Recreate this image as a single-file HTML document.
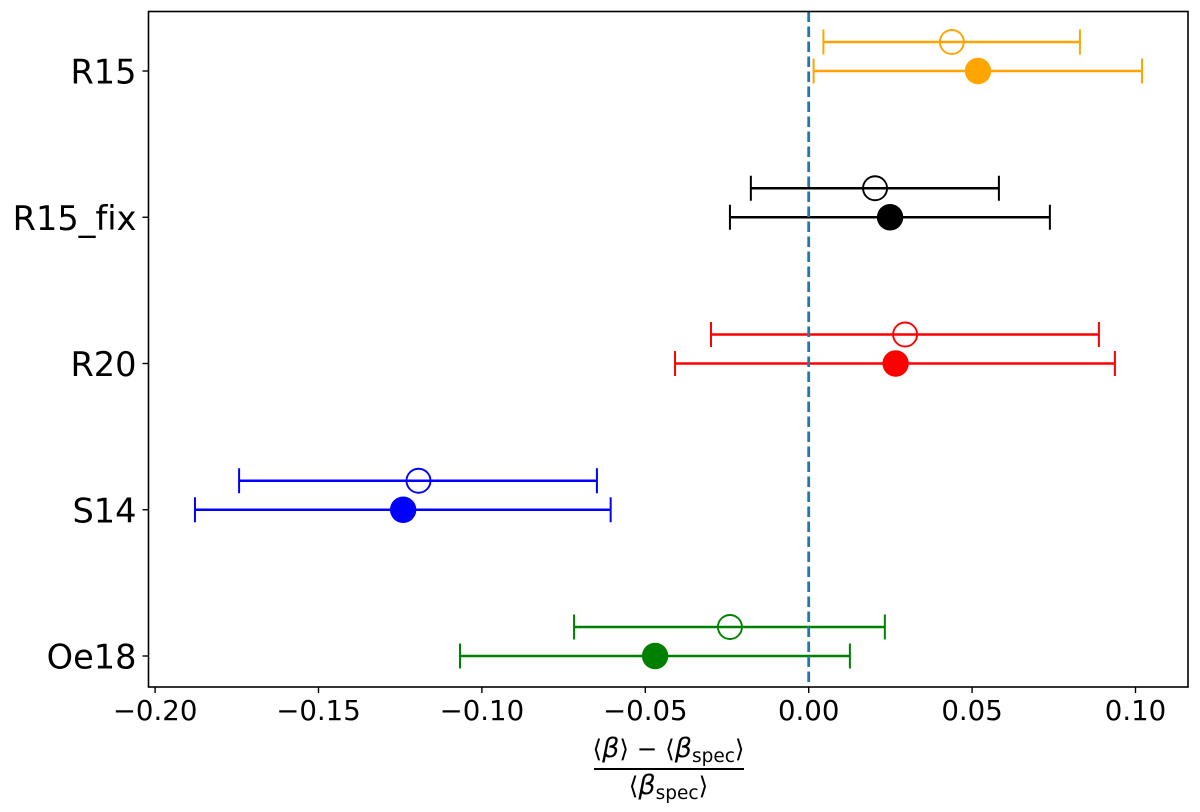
<!DOCTYPE html>
<html>
<head>
<meta charset="utf-8">
<style>
html,body{margin:0;padding:0;background:#fff;}
svg{display:block;filter:blur(0.3px);}
text{font-family:"DejaVu Sans","Liberation Sans",sans-serif;fill:#000;font-variant-ligatures:none;}
</style>
</head>
<body>
<svg id="chart" xmlns="http://www.w3.org/2000/svg" width="1200" height="812" viewBox="0 0 1200 812">
<rect x="0" y="0" width="1200" height="812" fill="#fff"/>
<g id="marks"></g>
<g id="axes"></g>
<g>
<text x="668.5" y="757" text-anchor="middle" font-size="24.6"><tspan>⟨</tspan><tspan font-style="italic" font-size="27">β</tspan><tspan>⟩ − ⟨</tspan><tspan font-style="italic" font-size="27">β</tspan><tspan font-size="18.5" dy="5">spec</tspan><tspan dy="-5">⟩</tspan></text>
<rect x="594" y="768" width="150" height="2" fill="#000"/>
<text x="668.5" y="794" text-anchor="middle" font-size="24.6"><tspan>⟨</tspan><tspan font-style="italic" font-size="27">β</tspan><tspan font-size="18.5" dy="5">spec</tspan><tspan dy="-5">⟩</tspan></text>
</g>
</svg>
<script>
var categories = ['Oe18', 'S14', 'R20', 'R15_fix', 'R15'];
var colors = ['green', 'blue', 'red', 'black', 'orange'];
var filledValues = [-0.0470, -0.1241, 0.0266, 0.0249, 0.0518];
var filledLow = [-0.1067, -0.1878, -0.0409, -0.0241, 0.0015];
var filledHigh = [0.0126, -0.0606, 0.0937, 0.0738, 0.1020];
var openValues = [-0.0241, -0.1194, 0.0295, 0.0203, 0.0438];
var openLow = [-0.0718, -0.1743, -0.0299, -0.0177, 0.0045];
var openHigh = [0.0233, -0.0648, 0.0888, 0.0582, 0.0830];
var xTicks = [-0.20, -0.15, -0.10, -0.05, 0.00, 0.05, 0.10];
var referenceValue = 0;

var NS = 'http://www.w3.org/2000/svg';
var plot = {left: 148.5, right: 1188, top: 11.5, bottom: 687};
function xScale(v) { return 808.7 + v * 3268; }
function yScale(i) { return 656 - i * 146.25; }
function make(parent, tag, attrs) {
  var el = document.createElementNS(NS, tag);
  for (var k in attrs) { el.setAttribute(k, attrs[k]); }
  parent.appendChild(el);
  return el;
}
var marks = document.getElementById('marks');
var axes = document.getElementById('axes');

function drawSeries(i, value, low, high, y, filled) {
  var g = make(marks, 'g', {});
  
  
  var x0 = xScale(low), x1 = xScale(high), c = colors[i];
  make(g, 'line', {x1: x0, x2: x1, y1: y, y2: y, stroke: c, 'stroke-width': 2.4});
  make(g, 'line', {x1: x0, x2: x0, y1: y - 12.5, y2: y + 12.5, stroke: c, 'stroke-width': 2});
  make(g, 'line', {x1: x1, x2: x1, y1: y - 12.5, y2: y + 12.5, stroke: c, 'stroke-width': 2});
  if (filled) {
    make(g, 'circle', {cx: xScale(value), cy: y, r: 13.2, fill: c});
  } else {
    make(g, 'circle', {cx: xScale(value), cy: y, r: 12, fill: 'none', stroke: c, 'stroke-width': 1.9});
  }
}
categories.forEach(function (name, i) {
  drawSeries(i, openValues[i], openLow[i], openHigh[i], yScale(i) - 29, false);
  drawSeries(i, filledValues[i], filledLow[i], filledHigh[i], yScale(i), true);
});

var refLine = make(marks, 'line', {x1: xScale(referenceValue), x2: xScale(referenceValue), y1: plot.top, y2: plot.bottom, stroke: '#1f77b4', 'stroke-width': 2.8, 'stroke-dasharray': '10.5 4.5'});



var frame = make(axes, 'rect', {x: plot.left, y: plot.top, width: plot.right - plot.left, height: plot.bottom - plot.top, fill: 'none', stroke: '#000', 'stroke-width': 1.6});



xTicks.forEach(function (t) {
  var x = xScale(t);
  var g = make(axes, 'g', {});
  
  
  make(g, 'line', {x1: x, x2: x, y1: plot.bottom, y2: plot.bottom + 6, stroke: '#000', 'stroke-width': 1.4});
  var label = make(g, 'text', {x: x, y: 720, 'text-anchor': 'middle', 'font-size': 27.6});
  label.textContent = (t < 0 ? '\u2212' : '') + Math.abs(t).toFixed(2);
});
categories.forEach(function (name, i) {
  var y = yScale(i);
  var g = make(axes, 'g', {});
  
  
  make(g, 'line', {x1: plot.left - 6, x2: plot.left, y1: y, y2: y, stroke: '#000', 'stroke-width': 1.4});
  var label = make(g, 'text', {x: 136.5, y: y + 12.5, 'text-anchor': 'end', 'font-size': 33.6});
  label.textContent = name;
});
</script>
</body>
</html>
